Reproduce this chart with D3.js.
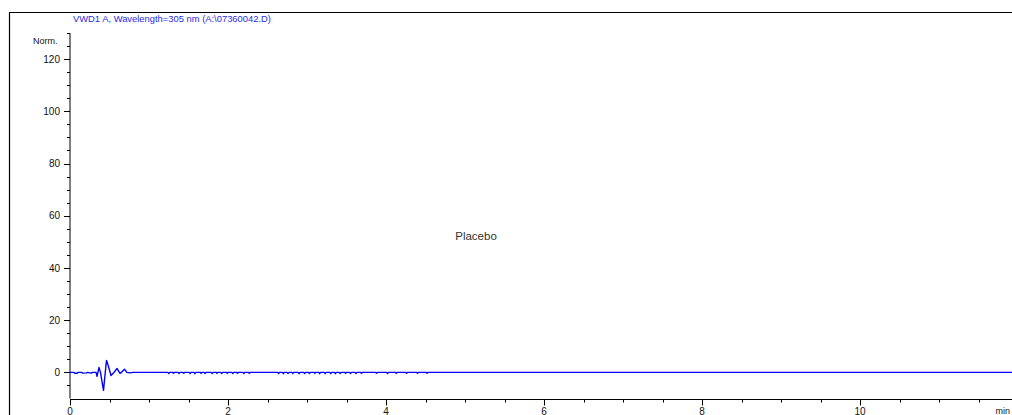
<!DOCTYPE html>
<html>
<head>
<meta charset="utf-8">
<script src="https://cdn.jsdelivr.net/npm/d3@7"></script>
<style>
  html, body { margin: 0; padding: 0; background: #fff; }
  svg { display: block; }
  text { font-family: "Liberation Sans", Arial, sans-serif; }
</style>
</head>
<body>
<svg id="chart" width="1012" height="415"></svg>
<script>
// Chromatogram: VWD1 A, 305 nm, placebo injection
const titleText = "VWD1 A, Wavelength=305 nm (A:\\07360042.D)";
const yUnit = "Norm.";
const xUnit = "min";
const sampleLabel = "Placebo";

const xTicks = [0, 2, 4, 6, 8, 10];
const yTicks = [0, 20, 40, 60, 80, 100, 120];

// Injection disturbance near the void volume (min, mAU)
const traceTime = [0, 0.05, 0.06, 0.09, 0.10, 0.15, 0.16, 0.21, 0.22, 0.27, 0.28, 0.33,
  0.342, 0.367, 0.386, 0.405, 0.424, 0.443, 0.462, 0.48, 0.50, 0.519, 0.537, 0.557,
  0.595, 0.615, 0.633, 0.66, 0.69, 0.72, 0.76, 0.80, 1.20];
const traceSignal = [0, 0, -0.3, -0.3, 0, 0, -0.3, -0.2, 0, -0.3, 0, 0,
  -1.5, 1.9, 0, -3.5, -6.9, -1.0, 4.6, 3.0, 0.8, -1.2, -0.6, 0,
  1.5, 0.5, -0.4, 0.3, 1.2, 0, -0.2, 0, 0];

// Baseline noise spikes later in the run
const noiseTime = [1.25, 1.31, 1.38, 1.44, 1.52, 1.58, 1.66, 1.71, 1.80, 1.86, 1.92, 1.99,
  2.06, 2.12, 2.20, 2.27, 2.64, 2.70, 2.76, 2.82, 2.90, 2.97, 3.03, 3.10, 3.16, 3.23,
  3.30, 3.36, 3.42, 3.49, 3.55, 3.62, 3.69, 3.88, 4.02, 4.13, 4.26, 4.40, 4.52];
const noiseDepth = [-0.4, -0.3, -0.4, -0.3, -0.4, -0.5, -0.3, -0.4, -0.4, -0.3, -0.4, -0.3,
  -0.4, -0.3, -0.4, -0.3, -0.4, -0.5, -0.4, -0.4, -0.5, -0.4, -0.4, -0.3, -0.5, -0.4,
  -0.4, -0.5, -0.4, -0.3, -0.4, -0.4, -0.3, -0.3, -0.4, -0.3, -0.3, -0.3, -0.3];
const runEnd = 12;

const svg = d3.select("#chart");

// outer frame (left and top edges visible)
svg.append("path")
  .attr("d", "M9.5,415 V12.5 H1012")
  .attr("fill", "none").attr("stroke", "#000").attr("stroke-width", 1.2);

svg.append("text")
  .attr("x", 73).attr("y", 21.5)
  .attr("font-size", 9.4).attr("fill", "#2a2ae8")
  .text(titleText);

const x = d3.scaleLinear().domain([0, 12]).range([70, 1018]);
const y = d3.scaleLinear().domain([-10, 130]).range([398.5, 33]);

// y axis
const yAxisG = svg.append("g").attr("transform", "translate(70,0)");
yAxisG.append("line").attr("x1", 0).attr("x2", 0).attr("y1", y(130)).attr("y2", y(-10))
  .attr("stroke", "#000");
const yMinor = d3.range(-5, 131, 5).filter(v => !yTicks.includes(v));
yAxisG.selectAll("line.minor").data(yMinor).join("line")
  .attr("class", "minor")
  .attr("x1", -3).attr("x2", 0)
  .attr("y1", d => Math.round(y(d)) + 0.5).attr("y2", d => Math.round(y(d)) + 0.5)
  .attr("stroke", "#000");
yAxisG.selectAll("line.major").data(yTicks).join("line")
  .attr("class", "major")
  .attr("x1", -6).attr("x2", 0)
  .attr("y1", d => Math.round(y(d)) + 0.5).attr("y2", d => Math.round(y(d)) + 0.5)
  .attr("stroke", "#000");
yAxisG.selectAll("text").data(yTicks).join("text")
  .attr("x", -10).attr("y", d => y(d) + 3.6)
  .attr("text-anchor", "end").attr("font-size", 10).attr("fill", "#111")
  .text(d => d);
svg.append("text")
  .attr("x", 33).attr("y", 44)
  .attr("font-size", 9).attr("fill", "#111")
  .text(yUnit);

// x axis
const xAxisG = svg.append("g").attr("transform", `translate(0,${Math.round(y(-10)) + 0.5})`);
xAxisG.append("line").attr("x1", x(0)).attr("x2", 1012).attr("y1", 0).attr("y2", 0)
  .attr("stroke", "#000");
const xMinor = d3.range(0.5, 12, 0.5).filter(v => !xTicks.includes(v));
xAxisG.selectAll("line.minor").data(xMinor).join("line")
  .attr("class", "minor")
  .attr("x1", d => Math.round(x(d)) + 0.5).attr("x2", d => Math.round(x(d)) + 0.5)
  .attr("y1", 0).attr("y2", 3)
  .attr("stroke", "#000");
xAxisG.selectAll("line.major").data(xTicks).join("line")
  .attr("class", "major")
  .attr("x1", d => Math.round(x(d)) + 0.5).attr("x2", d => Math.round(x(d)) + 0.5)
  .attr("y1", 0).attr("y2", 6)
  .attr("stroke", "#000");
xAxisG.selectAll("text").data(xTicks).join("text")
  .attr("x", d => x(d)).attr("y", 15)
  .attr("text-anchor", "middle").attr("font-size", 10).attr("fill", "#111")
  .text(d => d);
xAxisG.append("text")
  .attr("x", 1010).attr("y", 14)
  .attr("text-anchor", "end")
  .attr("font-size", 9).attr("fill", "#111")
  .text(xUnit);

// assemble signal points: disturbance, then baseline with noise spikes
const points = traceTime.map((t, i) => [t, traceSignal[i]]);
noiseTime.forEach((t, i) => {
  points.push([t - 0.012, 0], [t, noiseDepth[i]], [t + 0.012, 0]);
});
points.push([runEnd, 0]);
points.sort((a, b) => a[0] - b[0]);

const line = d3.line().x(d => x(d[0])).y(d => y(d[1]));
svg.append("path")
  .datum(points)
  .attr("d", line)
  .attr("fill", "none")
  .attr("stroke", "#0000ff")
  .attr("stroke-width", 1.4)
  .attr("stroke-linejoin", "round");

svg.append("text")
  .attr("x", 476).attr("y", 240)
  .attr("text-anchor", "middle").attr("font-size", 11.5).attr("fill", "#333")
  .text(sampleLabel);
</script>
</body>
</html>
